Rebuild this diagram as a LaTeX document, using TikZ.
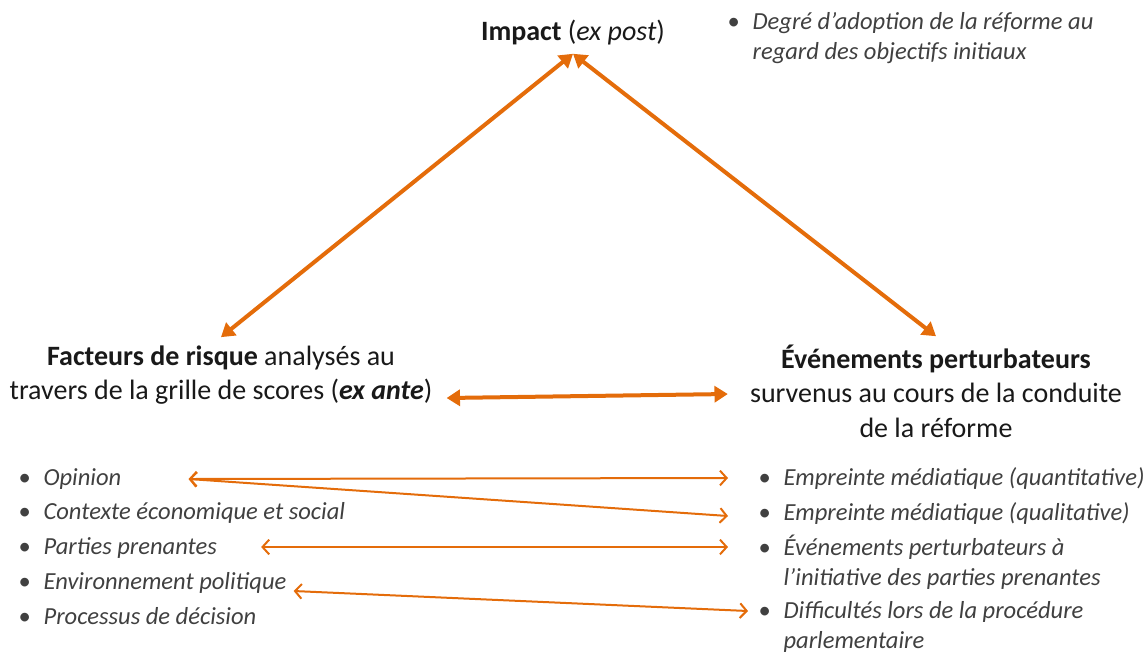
\documentclass[tikz,border=0pt]{standalone}
\usepackage{fontspec}
\setmainfont{Carlito}
\usetikzlibrary{arrows.meta,calc}

\definecolor{orangeF}{RGB}{228,108,10}
\definecolor{grisT}{RGB}{64,64,64}
\newcommand{\puce}[1]{\makebox[19pt][l]{\textbullet}#1}
\newcommand{\pucedeux}[2]{\begin{tabular}[t]{@{}l@{}l@{}}\makebox[19pt][l]{\textbullet}&#1\\&#2\end{tabular}}

\begin{document}
\begin{tikzpicture}[x=0.75pt,y=0.75pt,yscale=-1,
  titre/.style={font=\fontsize{21}{26}\selectfont, text=black!90, align=center, inner sep=6pt},
  liste/.style={font=\fontsize{18.4}{22.5}\selectfont\itshape, text=grisT, anchor=base west, inner sep=0pt},
  grosse/.style={draw=orangeF, line width=3pt, {Triangle[length=10pt,width=12pt]}-{Triangle[length=10pt,width=12pt]}},
  fine/.style={draw=orangeF, line width=1.5pt, {Straight Barb[length=5pt,width=11pt]}-{Straight Barb[length=5pt,width=11pt]}}]
  \useasboundingbox (0,0) rectangle (1148,651);

  %titres
  \node[titre] (impact) at (573,33) {\textbf{Impact} (\textit{ex post})};
  \node[titre] (risque) at (221,375) {\textbf{Facteurs de risque} analysés au\\travers de la grille de scores (\textbf{\textit{ex ante}})};
  \node[titre] (evenements) at (936,391) {\textbf{Événements perturbateurs}\\survenus au cours de la conduite\\de la réforme};

  %objectif de l'impact
  \node[liste] (degre) at (727,29) {\pucedeux{Degré d’adoption de la réforme au}{regard des objectifs initiaux}};

  %facteurs de risque
  \node[liste] (opinion) at (18,485) {\puce{Opinion}};
  \node[liste] (contexte) at (18,519) {\puce{Contexte économique et social}};
  \node[liste] (parties) at (18,554) {\puce{Parties prenantes}};
  \node[liste] (environnement) at (18,589) {\puce{Environnement politique}};
  \node[liste] (processus) at (18,624) {\puce{Processus de décision}};

  %evenements perturbateurs
  \node[liste] (quanti) at (758,485) {\puce{Empreinte médiatique (quantitative)}};
  \node[liste] (quali) at (758,520) {\puce{Empreinte médiatique (qualitative)}};
  \node[liste] (initiative) at (758,555) {\pucedeux{Événements perturbateurs à}{l’initiative des parties prenantes}};
  \node[liste] (parlement) at (758,618) {\pucedeux{Difficultés lors de la procédure}{parlementaire}};

  %fleches
  \draw[grosse] (impact.south) -- (risque.north);
  \draw[grosse] (impact.south) -- (evenements.north);
  \draw[grosse] ($(risque.east)+(6,23)$) -- ($(evenements.west)+(-14,3)$);

  \draw[fine] ($(opinion.base east)+(67,-6)$) -- ($(quanti.base west)+(-30,-7)$);
  \draw[fine] ($(opinion.base east)+(67,-6)$) -- ($(quali.base west)+(-30,-4)$);
  \draw[fine] ($(parties.base east)+(44,-7)$) -- ($(initiative.base west)+(-30,-8)$);
  \draw[fine] ($(environnement.base east)+(7,2)$) -- ($(parlement.base west)+(-10,-7)$);
\end{tikzpicture}
\end{document}
